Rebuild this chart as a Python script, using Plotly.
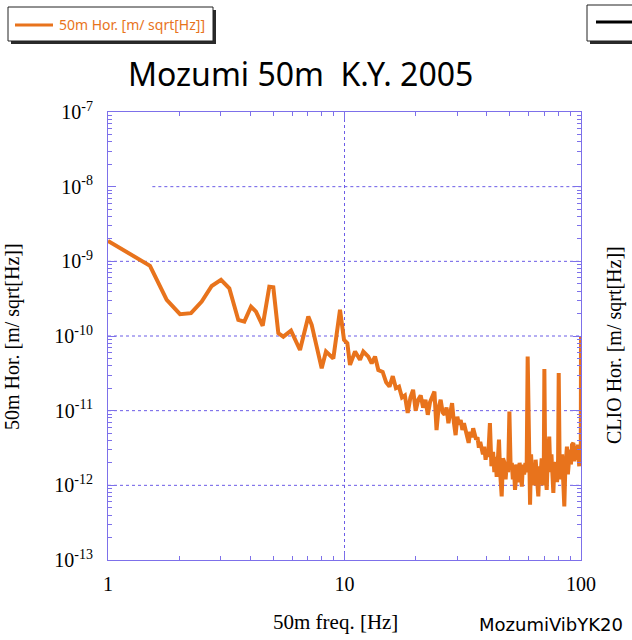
import plotly.graph_objects as go

# Horizontal ground-motion spectrum, Mozumi 50 m site
freq_hz = [1.00, 1.505, 1.771, 2.016, 2.244, 2.490, 2.745, 3.005, 3.258, 3.556,
           3.771, 4.024, 4.225, 4.510, 4.809, 5.000, 5.250, 5.511, 5.940, 6.484,
           7.029, 7.265, 7.627, 8.008, 8.351, 8.969, 9.572, 9.952, 10.28, 10.55,
           11.08, 11.63, 12.01, 12.61, 13.03, 13.46, 13.90,
           14.5, 15.0, 15.5, 16.0, 16.5, 17.0, 17.5, 18.0, 18.5, 19.0,
           19.5, 20.0, 20.5, 21.0, 21.5, 22.0, 22.5, 23.0, 23.5, 24.0,
           24.5, 25.0, 25.5, 26.0, 26.5, 27.0, 27.5, 28.0, 28.5, 29.0,
           29.5, 30.0, 30.5, 31.0, 31.5, 32.0, 32.5, 33.0, 33.5, 34.0,
           34.5, 35.0, 35.5, 36.0, 36.5, 37.0, 37.5, 38.0, 38.5, 39.0,
           39.5, 40.0, 40.5, 41.2, 41.8, 42.5, 43.0, 43.5, 44.0, 44.5,
           45.0, 45.5, 46.2, 46.8, 47.5, 48.0, 48.5, 49.2, 49.8, 50.4,
           51.0, 51.5, 52.0, 52.6, 53.2, 53.8, 54.3, 55.0, 55.6, 56.2,
           56.8, 57.5, 58.2, 58.9, 59.5, 60.2, 60.9, 61.5, 62.2, 62.9,
           63.6, 64.3, 65.0, 66.0, 66.7, 67.4, 68.2, 69.0, 69.6, 70.0,
           70.6, 71.6, 72.4, 73.4, 74.2, 75.0, 76.4, 77.2, 78.4, 79.2,
           80.0, 80.5, 81.2, 82.3, 83.2, 84.1, 85.0, 85.8, 86.5, 87.2,
           88.0, 88.8, 89.8, 90.7, 91.6, 92.8, 93.6, 94.5, 95.2, 95.9,
           96.7, 97.5, 98.3, 99.2, 99.8, 100.0]

hor_50m = [1.88e-9, 8.7e-10, 3.04e-10, 1.96e-10, 2.02e-10, 2.89e-10, 4.68e-10, 5.64e-10, 4.36e-10, 1.64e-10,
           1.56e-10, 2.47e-10, 2.12e-10, 1.37e-10, 4.58e-10, 4.50e-10, 1.09e-10, 9.8e-11, 1.18e-10, 6.5e-11,
           1.82e-10, 1.41e-10, 7.2e-11, 3.7e-11, 6.2e-11, 5.0e-11, 2.24e-10, 8.9e-11, 8.0e-11, 4.1e-11,
           6.2e-11, 4.8e-11, 6.2e-11, 5.3e-11, 4.3e-11, 5.3e-11, 3.5e-11,
           3.3e-11, 2.4e-11, 2.1e-11, 2.9e-11, 2.0e-11, 2.1e-11, 1.5e-11, 1.6e-11, 9.3e-12, 1.5e-11,
           1.9e-11, 1.0e-11, 1.4e-11, 1.6e-11, 1.1e-11, 1.4e-11, 8.8e-12, 1.3e-11, 1.5e-11, 1.8e-11,
           5.5e-12, 1.1e-11, 1.4e-11, 9.5e-12, 8.8e-12, 1.1e-11, 6.8e-12, 9.0e-12, 1.26e-11, 7.0e-12,
           4.7e-12, 8.3e-12, 6.5e-12, 7.5e-12, 5.5e-12, 6.8e-12, 5.3e-12, 4.5e-12, 3.7e-12, 5.2e-12,
           4.4e-12, 5.8e-12, 4.8e-12, 4.1e-12, 4.4e-12, 3.2e-12, 3.8e-12, 3.0e-12, 2.6e-12, 3.3e-12,
           2.2e-12, 2.9e-12, 2.4e-12, 6.8e-12, 1.8e-12, 2.8e-12, 1.5e-12, 2.4e-12, 1.3e-12, 2.2e-12,
           4.1e-12, 1.5e-12, 7.1e-13, 2.3e-12, 2.0e-12, 1.2e-12, 1.9e-12, 1.5e-12, 9.7e-12, 1.8e-12,
           2.0e-12, 1.2e-12, 1.9e-12, 8.7e-13, 1.7e-12, 1.9e-12, 1.1e-12, 2.0e-12, 1.5e-12, 9.6e-13,
           1.9e-12, 1.4e-12, 2.0e-12, 1.5e-12, 5.3e-11, 1.8e-12, 5.5e-13, 2.6e-12, 1.2e-12, 1.8e-12,
           1.0e-12, 2.2e-12, 1.5e-12, 7.1e-13, 1.8e-12, 1.3e-12, 2.3e-12, 1.0e-12, 1.6e-12, 3.6e-11,
           1.7e-12, 8.7e-13, 2.4e-12, 4.5e-12, 1.5e-12, 2.6e-12, 7.9e-13, 1.9e-12, 2.0e-12, 1.1e-12,
           2.2e-12, 3.2e-11, 2.0e-12, 1.2e-12, 2.6e-12, 1.3e-12, 5.2e-13, 1.6e-12, 2.5e-12, 3.3e-12,
           1.4e-12, 2.2e-12, 3.0e-12, 1.9e-12, 3.5e-12, 3.7e-12, 2.1e-12, 3.3e-12, 2.6e-12, 2.2e-12,
           3.5e-12, 2.4e-12, 1.8e-12, 3.3e-12, 2.0e-12, 9.7e-11]

x_tick_vals = [1, 10, 100]
x_tick_text = ["1", "10", "100"]
y_tick_vals = [1e-13, 1e-12, 1e-11, 1e-10, 1e-9, 1e-8, 1e-7]
y_tick_text = ["10<sup>-13</sup>", "10<sup>-12</sup>", "10<sup>-11</sup>", "10<sup>-10</sup>",
               "10<sup>-9</sup>", "10<sup>-8</sup>", "10<sup>-7</sup>"]

ORANGE = "#e8731c"
GRID = "#6b5ce6"
FRAME = "#7d70ea"
SERIF = "Liberation Serif, Times New Roman, serif"
SANS = "Noto Sans, DejaVu Sans, sans-serif"

W, H = 632, 640
L, R, T, B = 108, 51, 112, 80
PW, PH = W - L - R, H - T - B


def px(x):
    return (x - L) / PW


def py(y):
    return (H - B - y) / PH


minor_x = [k * 10 ** e for e in range(0, 2) for k in range(2, 10)]
minor_y = [k * 10.0 ** e for e in range(-13, -7) for k in range(2, 10)]

fig = go.Figure()
fig.add_trace(go.Scatter(x=freq_hz, y=hor_50m, mode="lines",
                         line=dict(color=ORANGE, width=4),
                         name="50m Hor. [m/ sqrt[Hz]]", showlegend=False,
                         cliponaxis=True))

shapes = []
# decade grid (dotted)
shapes.append(dict(type="line", xref="x", yref="paper", x0=10, x1=10, y0=0, y1=1,
                   line=dict(color=GRID, width=1, dash="dot"), layer="below"))
for v in [1e-12, 1e-11, 1e-10, 1e-9]:
    shapes.append(dict(type="line", xref="paper", yref="y", x0=0, x1=1, y0=v, y1=v,
                       line=dict(color=GRID, width=1, dash="dot"), layer="below"))
shapes.append(dict(type="line", xref="x", yref="y", x0=1.54, x1=100, y0=1e-8, y1=1e-8,
                   line=dict(color=GRID, width=1, dash="dot"), layer="below"))

# legend boxes with drop shadow
shapes.append(dict(type="rect", xref="paper", yref="paper", x0=px(11), x1=px(216), y0=py(10), y1=py(44),
                   line=dict(width=0), fillcolor="#2a2a2a"))
shapes.append(dict(type="rect", xref="paper", yref="paper", x0=px(8), x1=px(213), y0=py(7), y1=py(41),
                   line=dict(color="#222", width=1), fillcolor="white"))
shapes.append(dict(type="line", xref="paper", yref="paper", x0=px(15), x1=px(53), y0=py(25), y1=py(25),
                   line=dict(color=ORANGE, width=3)))
shapes.append(dict(type="rect", xref="paper", yref="paper", x0=px(590), x1=px(660), y0=py(8), y1=py(44),
                   line=dict(width=0), fillcolor="#2a2a2a"))
shapes.append(dict(type="rect", xref="paper", yref="paper", x0=px(587), x1=px(657), y0=py(5), y1=py(41),
                   line=dict(color="#222", width=1), fillcolor="white"))
shapes.append(dict(type="line", xref="paper", yref="paper", x0=px(596), x1=px(650), y0=py(22), y1=py(22),
                   line=dict(color="black", width=3)))

annotations = [
    dict(text="50m Hor. [m/ sqrt[Hz]]", xref="paper", yref="paper", x=px(57), y=py(25),
         xanchor="left", yanchor="middle", showarrow=False,
         font=dict(family=SANS, size=14, color=ORANGE)),
    dict(text="Mozumi 50m&nbsp; K.Y. 2005", xref="paper", yref="paper", x=px(300), y=py(74),
         xanchor="center", yanchor="middle", showarrow=False,
         font=dict(family=SANS, size=32, color="black")),
    dict(text="50m Hor. [m/ sqrt[Hz]]", xref="paper", yref="paper", x=px(12), y=py(337),
         xanchor="center", yanchor="middle", showarrow=False, textangle=-90,
         font=dict(family=SERIF, size=20, color="black")),
    dict(text="CLIO Hor. [m/ sqrt[Hz]]", xref="paper", yref="paper", x=px(614), y=py(345),
         xanchor="center", yanchor="middle", showarrow=False, textangle=-90,
         font=dict(family=SERIF, size=20, color="black")),
    dict(text="50m freq. [Hz]", xref="paper", yref="paper", x=px(335), y=py(622),
         xanchor="center", yanchor="middle", showarrow=False,
         font=dict(family=SERIF, size=21, color="black")),
    dict(text="MozumiVibYK20", xref="paper", yref="paper", x=px(477), y=py(624),
         xanchor="left", yanchor="middle", showarrow=False,
         font=dict(family="DejaVu Sans, sans-serif", size=18, color="black")),
]

axis_common = dict(type="log", showgrid=False, zeroline=False, showline=True,
                   linecolor=FRAME, linewidth=1, mirror="allticks",
                   ticks="inside", ticklen=8, tickcolor=FRAME, tickwidth=1,
                   tickfont=dict(family=SERIF, size=20, color="black"))

fig.update_layout(
    width=W, height=H, margin=dict(l=L, r=R, t=T, b=B),
    paper_bgcolor="white", plot_bgcolor="white",
    xaxis=dict(range=[0, 2], tickvals=x_tick_vals, ticktext=x_tick_text,
               ticklabelstandoff=6,
               minor=dict(tickvals=minor_x, ticks="inside", ticklen=4, tickcolor=FRAME, showgrid=False),
               **axis_common),
    yaxis=dict(range=[-13, -7], tickvals=y_tick_vals, ticktext=y_tick_text,
               ticklabelstandoff=10,
               minor=dict(tickvals=minor_y, ticks="inside", ticklen=4, tickcolor=FRAME, showgrid=False),
               **axis_common),
    shapes=shapes, annotations=annotations, showlegend=False,
)

fig.write_html("out.html")
